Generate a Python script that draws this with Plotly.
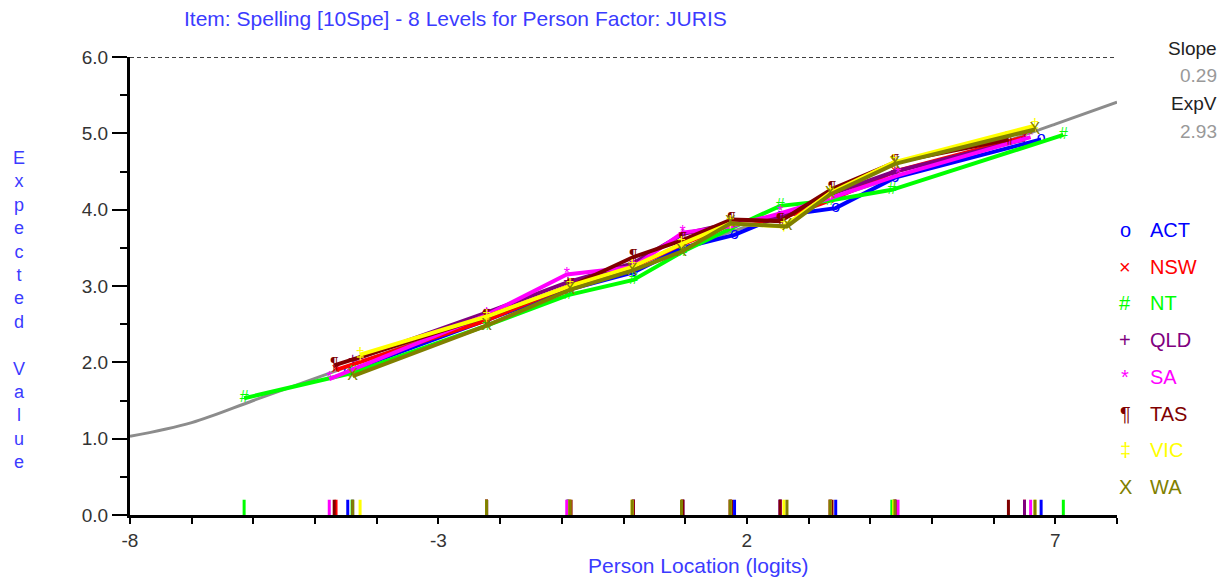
import plotly.graph_objects as go

# ---------------- data ----------------
curve_x = [-8, -7, -6, -5, -4, -3, -2, -1, 0, 1, 2, 3, 4, 5, 6, 7, 8]
curve_y = [1.03, 1.21, 1.50, 1.79, 2.08, 2.37, 2.66, 2.94, 3.23, 3.51, 3.78, 4.05, 4.32, 4.58, 4.84, 5.12, 5.41]

groups = ["ACT", "NSW", "NT", "QLD", "SA", "TAS", "VIC", "WA"]
symbols = ["o", "×", "#", "+", "*", "¶", "‡", "X"]
colors = ["#0000ff", "#ff0000", "#00ff00", "#800080", "#ff00ff", "#800000", "#ffff00", "#808000"]

act_x = [-4.47, -2.22, -0.90, 0.16, 0.96, 1.80, 2.54, 3.44, 4.40, 6.77]
act_y = [1.88, 2.55, 2.95, 3.18, 3.50, 3.67, 3.92, 4.02, 4.42, 4.92]
nsw_x = [-4.66, -2.22, -0.88, 0.16, 0.96, 1.73, 2.54, 3.35, 4.40, 6.50]
nsw_y = [1.90, 2.55, 3.00, 3.25, 3.55, 3.80, 3.88, 4.12, 4.50, 4.95]
nt_x = [-6.15, -4.40, -2.22, -0.90, 0.16, 0.96, 1.73, 2.54, 3.35, 4.35, 7.13]
nt_y = [1.53, 1.86, 2.48, 2.88, 3.08, 3.45, 3.75, 4.05, 4.12, 4.26, 4.98]
qld_x = [-4.39, -2.22, -0.90, 0.16, 0.96, 1.73, 2.54, 3.35, 4.40, 6.50]
qld_y = [2.03, 2.65, 3.05, 3.30, 3.68, 3.82, 3.90, 4.20, 4.50, 4.92]
sa_x = [-4.77, -2.22, -0.92, 0.16, 0.96, 1.73, 2.54, 3.35, 4.45, 6.60]
sa_y = [1.78, 2.62, 3.15, 3.25, 3.70, 3.78, 3.95, 4.15, 4.45, 4.95]
tas_x = [-4.69, -2.22, -0.85, 0.16, 0.96, 1.75, 2.54, 3.38, 4.40, 6.24]
tas_y = [1.96, 2.60, 3.00, 3.38, 3.60, 3.87, 3.85, 4.27, 4.62, 4.92]
vic_x = [-4.27, -2.22, -0.87, 0.14, 0.94, 1.73, 2.60, 3.35, 4.38, 6.67]
vic_y = [2.10, 2.60, 3.00, 3.25, 3.55, 3.82, 3.78, 4.22, 4.62, 5.10]
wa_x = [-4.39, -2.22, -0.87, 0.14, 0.94, 1.73, 2.65, 3.35, 4.40, 6.67]
wa_y = [1.82, 2.48, 2.95, 3.20, 3.45, 3.82, 3.78, 4.20, 4.60, 5.05]

group_x = [act_x, nsw_x, nt_x, qld_x, sa_x, tas_x, vic_x, wa_x]
group_y = [act_y, nsw_y, nt_y, qld_y, sa_y, tas_y, vic_y, wa_y]

x_tickvals = list(range(-8, 9))
x_labels = {-8: "-8", -3: "-3", 2: "2", 7: "7"}
y_major = [0, 1, 2, 3, 4, 5, 6]

slope_txt = "0.29"
expv_txt = "2.93"
title_txt = "Item: Spelling [10Spe] - 8 Levels for Person Factor: JURIS"
x_title = "Person Location (logits)"
rug_h = 0.2
max_score = 6.0

FONT = "Liberation Sans, Arial, sans-serif"
BLUE = "#3b3bff"

# page geometry (browser body margin of 8px offsets the figure)
OFF = 8
W, H = 1232 - OFF, 580 - OFF
ML, MR, MT, MB = 130 - OFF, 115, 57 - OFF, 65
pw, ph = W - ML - MR, H - MT - MB


def px(X, Y):
    """screen pixel -> paper coordinates"""
    return (X - OFF - ML) / pw, (H - MB - (Y - OFF)) / ph


fig = go.Figure()

fig.add_trace(go.Scatter(x=[-8, 8], y=[max_score, max_score], mode="lines",
                         line=dict(color="black", width=1.3, dash="4px,3px"),
                         hoverinfo="skip", showlegend=False))

fig.add_trace(go.Scatter(x=curve_x, y=curve_y, mode="lines",
                         line=dict(color="#8c8c8c", width=3, shape="spline"),
                         hoverinfo="skip", showlegend=False))

for name, sym, col, gx, gy in zip(groups, symbols, colors, group_x, group_y):
    fig.add_trace(go.Scatter(x=gx, y=gy, mode="lines+text", name=name,
                             text=[sym] * len(gx), textposition="middle center",
                             textfont=dict(color=col, size=16, family=FONT),
                             line=dict(color=col, width=4), showlegend=False))

for col, gx in zip(colors, group_x):
    rx, ry = [], []
    for v in gx:
        rx += [v, v, None]
        ry += [0, rug_h, None]
    fig.add_trace(go.Scatter(x=rx, y=ry, mode="lines", line=dict(color=col, width=3),
                             hoverinfo="skip", showlegend=False))

annotations = []


def add_text(text, X, Y, color, size, xanchor="center"):
    ax, ay = px(X, Y)
    annotations.append(dict(text=text, x=ax, y=ay, xref="paper", yref="paper", showarrow=False,
                            xanchor=xanchor, yanchor="middle",
                            font=dict(color=color, size=size, family=FONT)))


add_text(title_txt, 455, 19, BLUE, 21)
add_text(x_title, 698, 565, BLUE, 21)
add_text("<br>".join(list("Expected") + [" "] + list("Value")), 19, 310, BLUE, 18)
add_text("Slope", 1219, 48, "#222222", 19, "right")
add_text(slope_txt, 1219, 75, "#999999", 19, "right")
add_text("ExpV", 1219, 104, "#222222", 19, "right")
add_text(expv_txt, 1219, 131, "#999999", 19, "right")
for i, (name, sym, col) in enumerate(zip(groups, symbols, colors)):
    yy = 230 + i * 36.7
    add_text(sym, 1125, yy, col, 20)
    add_text(name, 1148, yy, col, 20, "left")

fig.update_layout(
    width=W, height=H,
    margin=dict(l=ML, r=MR, t=MT, b=MB),
    plot_bgcolor="white", paper_bgcolor="white",
    annotations=annotations,
    xaxis=dict(range=[-8, 8], tickvals=x_tickvals, ticktext=[x_labels.get(v, "") for v in x_tickvals],
               ticks="outside", ticklen=6, tickwidth=2, tickcolor="black",
               showline=True, linecolor="black", linewidth=3, showgrid=False, zeroline=False,
               tickfont=dict(color="#333333", size=19, family=FONT)),
    yaxis=dict(range=[0, 6], tickvals=y_major, ticktext=[f"{v:.1f}" for v in y_major],
               ticks="outside", ticklen=15, tickwidth=2, tickcolor="black",
               minor=dict(dtick=0.5, ticks="outside", ticklen=7, tickwidth=2, tickcolor="black"),
               showline=True, linecolor="black", linewidth=3, showgrid=False, zeroline=False,
               tickfont=dict(color="#333333", size=19, family=FONT)),
)

fig.write_html("out.html")
